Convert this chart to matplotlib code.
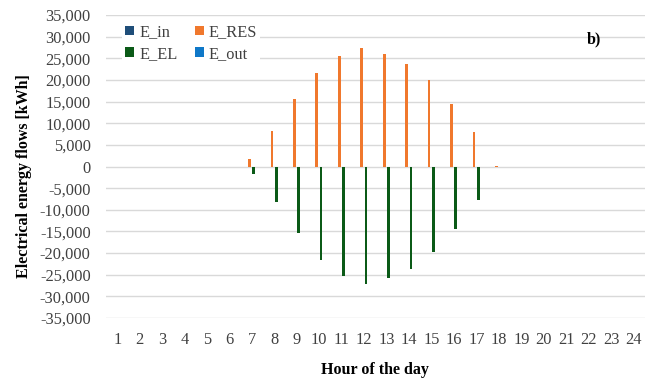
import numpy as np
import matplotlib.pyplot as plt
from matplotlib.ticker import FuncFormatter

plt.rcParams['font.family'] = ['Liberation Serif', 'DejaVu Serif']

hours = list(range(1, 25))
e_in = [0] * 24
e_res = [0, 0, 0, 0, 0, 0, 1700, 8200, 15600, 21700, 25600, 27300,
         25900, 23600, 20000, 14400, 7900, 200, 0, 0, 0, 0, 0, 0]
e_el = [0, 0, 0, 0, 0, 0, -1700, -8200, -15400, -21500, -25400, -27100,
        -25800, -23600, -19800, -14400, -7700, 0, 0, 0, 0, 0, 0, 0]
e_out = [0] * 24

series = [('E_in', e_in, '#1f4e79'), ('E_RES', e_res, '#f0782d'),
          ('E_EL', e_el, '#0b5a17'), ('E_out', e_out, '#0f78c8')]

fig = plt.figure(figsize=(6.56, 3.82), dpi=100)
ax = fig.add_axes([0.1616, 0.1675, 0.8214, 0.7932])

x = np.arange(len(hours))
offsets = [-0.3, -0.11, 0.08, 0.27]
bars = []
for (name, vals, col), off in zip(series, offsets):
    b = ax.bar(x + off, vals, width=0.12, color=col, label=name, zorder=3, lw=0)
    bars.append(b)

ax.set_xlim(-0.5, 23.5)
ax.set_ylim(-35000, 35000)
ax.set_yticks(np.arange(-35000, 35001, 5000))
ax.yaxis.set_major_formatter(FuncFormatter(lambda v, p: f'{int(v):,}'))
ax.set_xticks(x)
ax.set_xticklabels([str(h) for h in hours])
ax.tick_params(axis='both', length=0, labelsize=11.8, colors='#404040')
ax.tick_params(axis='x', pad=10)
ax.tick_params(axis='y', pad=11)
ax.grid(axis='y', color='#d9d9d9', lw=1, zorder=0)
for s in ax.spines.values():
    s.set_visible(False)

ax.set_ylabel('Electrical energy flows [kWh]', fontsize=11.5, fontweight='bold')
ax.yaxis.set_label_coords(-0.138, 0.47)
ax.set_xlabel('Hour of the day', fontsize=11.5, fontweight='bold', labelpad=10)

# row-wise order: E_in, E_RES / E_EL, E_out
order = [0, 2, 1, 3]
leg = ax.legend([bars[i] for i in order], [series[i][0] for i in order],
                ncol=2, loc='upper left', bbox_to_anchor=(0.03, 0.98), frameon=True,
                framealpha=1, edgecolor='none', fontsize=11.8, handlelength=0.55,
                handleheight=0.55, handletextpad=0.3, columnspacing=1.05,
                labelspacing=0.35, borderpad=0.2, borderaxespad=0)
for t in leg.get_texts():
    t.set_color('#404040')

ax.text(0.892, 0.905, 'b)', transform=ax.transAxes, fontsize=11.5, fontweight='bold')

plt.savefig('out.png', dpi=100)
